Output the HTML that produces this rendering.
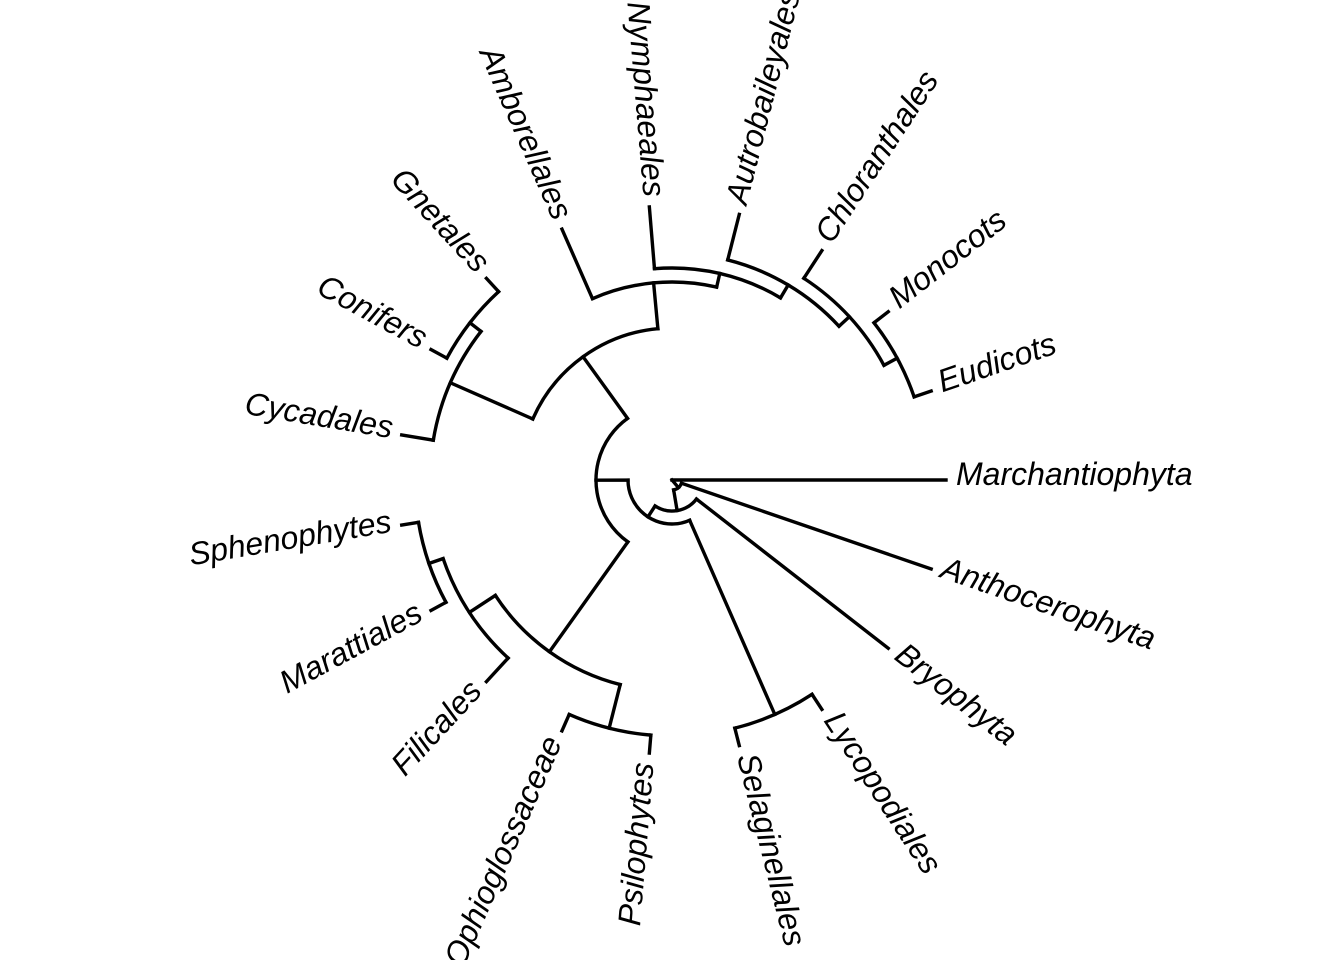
<!DOCTYPE html>
<html><head><meta charset="utf-8"><style>
html,body{margin:0;padding:0;background:#fff;}
svg{display:block;}
text{font-family:"Liberation Sans",Arial,sans-serif;font-style:italic;font-size:32px;fill:#000;}
</style></head><body>
<svg width="1344" height="960" viewBox="0 0 1344 960" xmlns="http://www.w3.org/2000/svg">
<g transform="translate(672,480)" stroke="#000" stroke-width="3.4" fill="none" stroke-linecap="square">
<circle r="10" pathLength="360" stroke-dasharray="61.55 400" transform="rotate(18.95)"/>
<circle r="31" pathLength="360" stroke-dasharray="85.2 400" transform="rotate(37.89)"/>
<circle r="44" pathLength="360" stroke-dasharray="113.53 400" transform="rotate(66.32)"/>
<circle r="256" pathLength="360" stroke-dasharray="18.95 400" transform="rotate(56.84)"/>
<circle r="76" pathLength="360" stroke-dasharray="108.7 400" transform="rotate(125.5)"/>
<circle r="211" pathLength="360" stroke-dasharray="42.63 400" transform="rotate(104.21)"/>
<circle r="256" pathLength="360" stroke-dasharray="18.94 400" transform="rotate(94.74)"/>
<circle r="242" pathLength="360" stroke-dasharray="28.42 400" transform="rotate(132.63)"/>
<circle r="257" pathLength="360" stroke-dasharray="18.95 400" transform="rotate(151.58)"/>
<circle r="152" pathLength="360" stroke-dasharray="60.99 400" transform="rotate(203.68)"/>
<circle r="242" pathLength="360" stroke-dasharray="28.42 400" transform="rotate(189.47)"/>
<circle r="256" pathLength="360" stroke-dasharray="18.95 400" transform="rotate(208.42)"/>
<circle r="198" pathLength="360" stroke-dasharray="36.71 400" transform="rotate(246.32)"/>
<circle r="212" pathLength="360" stroke-dasharray="35.53 400" transform="rotate(265.26)"/>
<circle r="227" pathLength="360" stroke-dasharray="33.16 400" transform="rotate(284.21)"/>
<circle r="241" pathLength="360" stroke-dasharray="28.42 400" transform="rotate(303.16)"/>
<circle r="256" pathLength="360" stroke-dasharray="18.94 400" transform="rotate(322.11)"/>
<line x1="0" x2="274" transform="rotate(0)"/>
<line x1="0" x2="10" transform="rotate(49.7)"/>
<line x1="10" x2="274" transform="rotate(18.95)"/>
<line x1="10" x2="31" transform="rotate(80.5)"/>
<line x1="31" x2="274" transform="rotate(37.89)"/>
<line x1="31" x2="44" transform="rotate(123.1)"/>
<line x1="44" x2="256" transform="rotate(66.32)"/>
<line x1="256" x2="274" transform="rotate(56.84)"/>
<line x1="256" x2="274" transform="rotate(75.79)"/>
<line x1="44" x2="76" transform="rotate(179.85)"/>
<line x1="76" x2="211" transform="rotate(125.5)"/>
<line x1="211" x2="256" transform="rotate(104.21)"/>
<line x1="256" x2="274" transform="rotate(94.74)"/>
<line x1="256" x2="274" transform="rotate(113.68)"/>
<line x1="211" x2="242" transform="rotate(146.84)"/>
<line x1="242" x2="274" transform="rotate(132.63)"/>
<line x1="242" x2="257" transform="rotate(161.05)"/>
<line x1="257" x2="274" transform="rotate(151.58)"/>
<line x1="257" x2="274" transform="rotate(170.53)"/>
<line x1="76" x2="152" transform="rotate(234.2)"/>
<line x1="152" x2="242" transform="rotate(203.68)"/>
<line x1="242" x2="274" transform="rotate(189.47)"/>
<line x1="242" x2="256" transform="rotate(217.89)"/>
<line x1="256" x2="274" transform="rotate(208.42)"/>
<line x1="256" x2="274" transform="rotate(227.37)"/>
<line x1="152" x2="198" transform="rotate(264.67)"/>
<line x1="198" x2="274" transform="rotate(246.32)"/>
<line x1="198" x2="212" transform="rotate(283.03)"/>
<line x1="212" x2="274" transform="rotate(265.26)"/>
<line x1="212" x2="227" transform="rotate(300.79)"/>
<line x1="227" x2="274" transform="rotate(284.21)"/>
<line x1="227" x2="241" transform="rotate(317.37)"/>
<line x1="241" x2="274" transform="rotate(303.16)"/>
<line x1="241" x2="256" transform="rotate(331.58)"/>
<line x1="256" x2="274" transform="rotate(322.11)"/>
<line x1="256" x2="274" transform="rotate(341.05)"/>
</g>
<g transform="translate(672,480)">
<text x="284" dy="5" transform="rotate(0)">Marchantiophyta</text>
<text x="284" dy="5" transform="rotate(18.95)">Anthocerophyta</text>
<text x="284" dy="5" transform="rotate(37.89)">Bryophyta</text>
<text x="284" dy="5" transform="rotate(56.84)">Lycopodiales</text>
<text x="284" dy="5" transform="rotate(75.79)">Selaginellales</text>
<text x="-284" dy="5" text-anchor="end" transform="rotate(-85.26)">Psilophytes</text>
<text x="-284" dy="5" text-anchor="end" transform="rotate(-66.32)">Ophioglossaceae</text>
<text x="-284" dy="5" text-anchor="end" transform="rotate(-47.37)">Filicales</text>
<text x="-284" dy="5" text-anchor="end" transform="rotate(-28.42)">Marattiales</text>
<text x="-284" dy="5" text-anchor="end" transform="rotate(-9.47)">Sphenophytes</text>
<text x="-284" dy="5" text-anchor="end" transform="rotate(9.47)">Cycadales</text>
<text x="-284" dy="5" text-anchor="end" transform="rotate(28.42)">Conifers</text>
<text x="-284" dy="5" text-anchor="end" transform="rotate(47.37)">Gnetales</text>
<text x="-284" dy="5" text-anchor="end" transform="rotate(66.32)">Amborellales</text>
<text x="-284" dy="5" text-anchor="end" transform="rotate(85.26)">Nymphaeales</text>
<text x="284" dy="5" transform="rotate(284.21)">Autrobaileyales</text>
<text x="284" dy="5" transform="rotate(303.16)">Chloranthales</text>
<text x="284" dy="5" transform="rotate(322.11)">Monocots</text>
<text x="284" dy="5" transform="rotate(341.05)">Eudicots</text>
</g>
</svg>
</body></html>
